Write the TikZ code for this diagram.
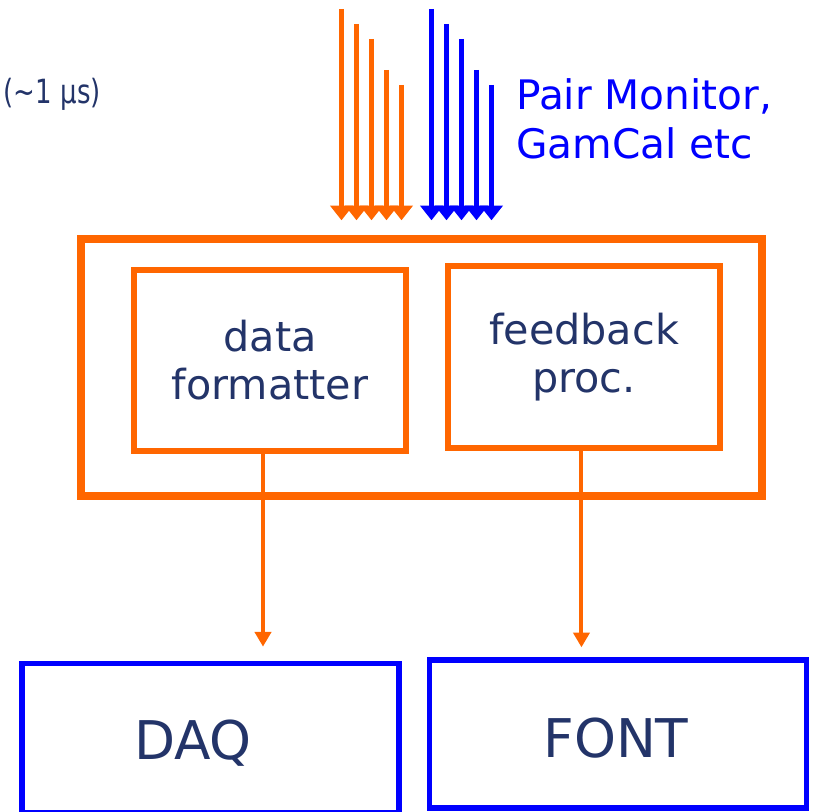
\documentclass[tikz,border=0pt]{standalone}
\usepackage{fontspec}
\setmainfont{DejaVu Sans}
\usetikzlibrary{arrows.meta}
\definecolor{sigorange}{HTML}{FF6600}
\definecolor{sigblue}{HTML}{0000FF}
\definecolor{inkblue}{HTML}{233469}

\begin{document}
\begin{tikzpicture}[x=0.75pt, y=-0.75pt,
    every node/.style={text=inkblue, inner sep=0pt},
    procbox/.style={draw=sigorange, line width=4.25pt, align=center, font=\fontsize{31}{36}\selectfont},
    hostbox/.style={draw=sigblue, line width=4pt},
    hosttext/.style={font=\fontsize{40}{48}\selectfont, anchor=base},
    inlink/.style={line width=3.75pt, -{Triangle[width=16.5pt,length=11pt]}, shorten >=11pt},
    outlink/.style={draw=sigorange, line width=3pt, -{Triangle[width=12pt,length=11pt]}}]
\useasboundingbox (0,0) rectangle (815,812);

% trigger board and its two parts
\node[draw=sigorange, line width=6pt, minimum width=510.75pt, minimum height=192.75pt] (frame) at (421.5,367.5) {};
\node[procbox, minimum width=204pt, minimum height=135.75pt] (fmt) at (270,360.5) {data\\formatter};
\node[procbox, minimum width=204pt, minimum height=136.5pt] (fbk) at (584,357) {feedback\\proc.};

% receivers
\node[hostbox, minimum width=282.75pt, minimum height=112pt] (daq) at (210.5,738) {};
\node[hostbox, minimum width=283pt, minimum height=111pt] (fnt) at (618,734) {};
\node[hosttext] (daqlabel) at (193,760) {DAQ};
\node[hosttext] (fntlabel) at (616,758) {FONT};

% inputs
\node[anchor=base east, font=\fontsize{25}{30}\selectfont] (latency) at (101,104) {\scalebox{0.78}[1]{(\textasciitilde1 μs)}};
\node[anchor=north west, align=left, text=sigblue, font=\fontsize{30.5}{37}\selectfont] (pairmon) at (516,78) {Pair Monitor,\\GamCal etc};

\foreach \x/\y [count=\i] in {341.5/9, 356.5/24, 371.5/39, 386.5/70, 401.5/85} {
  \coordinate (o\i) at (\x,\y);
  \coordinate (b\i) at (\x+90,\y);
  \draw[inlink, sigorange] (o\i) -- (o\i |- frame.north);
  \draw[inlink, sigblue] (b\i) -- (b\i |- frame.north);
}

% outputs
\draw[outlink, shorten >=10.5pt] ([xshift=-5.25pt]fmt.south) -- ([xshift=-5.25pt]fmt.south |- daq.north);
\draw[outlink, shorten >=7.5pt] ([xshift=-1.9pt]fbk.south) -- ([xshift=-1.9pt]fbk.south |- fnt.north);
\end{tikzpicture}
\end{document}
